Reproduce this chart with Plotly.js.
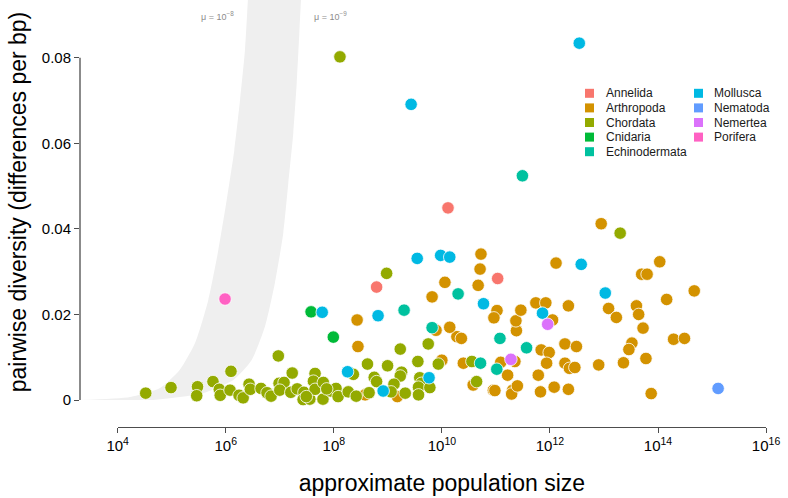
<!DOCTYPE html>
<html><head><meta charset="utf-8">
<script src="https://cdn.plot.ly/plotly-3.0.1.min.js"></script>
<style>html,body{margin:0;padding:0;background:#fff}#chart{width:788px;height:498px}</style>
</head><body><div id="chart"></div>
<script>
// ---- data ----
const categories = ["Annelida","Arthropoda","Chordata","Cnidaria","Echinodermata","Mollusca","Nematoda","Nemertea","Porifera"];
const colors = ["#F8766D","#D39200","#93AA00","#00BA38","#00C19F","#00B9E3","#619CFF","#DB72FB","#FF61C3"];

const annelidaN  = [1.3e10, 1.08e11, 6.2e8];
const annelidaPi = [0.0449, 0.0284, 0.0264];

const arthropodaN  = [2.8e8,3.8e8,1.5e9,1.0e10,2.5e10,3.8e10,9.0e10,1.9e10,2.3e10,7.8e9,
  1.4e10,2.4e11,2.35e11,1.23e11,2.25e11,1.65e11,9.6e10,2.05e11,1.96e11,2.5e11,
  6.9e11,9.7e11,8.7e11,6.1e11,6.7e11,1.2e12,1.9e12,3.1e12,1.9e12,2.3e12,
  2.9e12,2.2e12,8.9e12,1.08e14,5.0e13,6.3e13,4.7e14,1.45e14,2.2e12,1.22e13,
  1.7e13,4.0e13,4.4e13,5.3e13,3.3e13,2.9e13,6.0e13,1.95e14,3.1e14,8.0e12,
  2.3e13,7.5e13,5.3e10,5.1e10,4.7e10,1.3e12,1.14e10,6.6e9,2.7e8,1.05e11,
  9.2e10,2.9e11,5.5e11,8.4e11,1.12e12];
const arthropodaPi = [0.0125,0.0012,0.0008,0.0093,0.0086,0.0035,0.0023,0.0148,0.0144,0.0163,
  0.0170,0.0162,0.0185,0.0088,0.0090,0.0058,0.0022,0.0023,0.0014,0.0033,
  0.0117,0.0111,0.0086,0.0058,0.0019,0.0030,0.0131,0.0125,0.0086,0.0074,
  0.0076,0.0025,0.0412,0.0323,0.0294,0.0294,0.0255,0.0235,0.0220,0.0214,
  0.0193,0.0220,0.0200,0.0168,0.0133,0.0118,0.0097,0.0142,0.0144,0.0082,
  0.0087,0.0015,0.0341,0.0306,0.0268,0.0320,0.0275,0.0241,0.0187,0.0209,
  0.0192,0.0210,0.0227,0.0227,0.0187];

const chordataN  = [3.3e4,9.7e4,3.0e5,2.9e5,5.8e5,7.6e5,7.9e5,1.25e6,1.2e6,1.76e6,
  2.1e6,2.7e6,2.85e6,4.5e6,5.8e6,6.9e6,9.4e6,9.7e6,1.2e7,1.0e7,
  1.6e7,1.7e7,2.1e7,2.8e7,2.7e7,3.6e7,4.5e7,4.2e7,4.5e7,6.4e7,
  6.3e7,8.8e7,1.1e8,3.1e7,1.2e8,1.85e8,7.4e7,2.3e8,2.6e8,4.2e8,
  5.6e8,6.2e8,4.5e8,9.9e8,1.7e9,1.8e9,1.7e9,1.3e9,1.15e9,2.1e9,
  3.6e9,3.9e9,4.2e9,3.7e9,3.7e9,6.0e9,5.6e9,8.6e9,3.6e10,4.4e10,
  9.5e8,1.3e8,2.0e13];
const chordataPi = [0.0016,0.0029,0.0031,0.0010,0.0043,0.0025,0.0011,0.0067,0.0023,0.0011,
  0.0005,0.0037,0.0025,0.0027,0.0017,0.0009,0.0103,0.0039,0.0041,0.0023,
  0.0018,0.0063,0.0026,0.0018,0.0001,0.0002,0.0062,0.0044,0.0025,0.0041,
  0.0002,0.0021,0.0027,0.0008,0.0008,0.0019,0.0026,0.0060,0.0009,0.0084,
  0.0053,0.0043,0.0017,0.0080,0.0119,0.0065,0.0056,0.0037,0.0019,0.0016,
  0.0090,0.0052,0.0039,0.0030,0.0012,0.0029,0.0131,0.0084,0.0090,0.0043,
  0.0296,0.0802,0.0390];

const cnidariaN  = [3.8e7, 9.8e7];
const cnidariaPi = [0.0206, 0.0147];

const echinodermataN  = [3.1e11,2.0e10,2.0e9,6.6e9,1.19e11,3.7e11,5.2e10,1.04e11];
const echinodermataPi = [0.0524,0.0248,0.0210,0.0169,0.0144,0.0122,0.0086,0.0072];

const molluscaN  = [3.5e12,2.7e9,3.5e9,9.5e9,1.4e10,3.8e12,1.06e13,6.1e7,6.6e8,5.9e10,7.3e11,1.8e8,8.2e8,5.8e9];
const molluscaPi = [0.0834,0.0691,0.0331,0.0338,0.0334,0.0317,0.0250,0.0205,0.0197,0.0225,0.0203,0.0066,0.0021,0.0052];

const nematodaN  = [1.3e15];
const nematodaPi = [0.0027];

const nemerteaN  = [1.9e11, 9.1e11];
const nemerteaPi = [0.0095, 0.0177];

const poriferaN  = [9.7e5];
const poriferaPi = [0.0236];

// shaded band: boundary curves (bottom -> top)
const bandMu8N  = [2.0e3,1.7e4,6.1e4,1.4e5,2.7e5,4.75e5,7.3e5,1.04e6,1.44e6,1.84e6,2.27e6,2.57e6,2.75e6];
const bandMu8Pi = [0,0.0007,0.0028,0.0070,0.0133,0.0234,0.0351,0.0467,0.0584,0.0701,0.0818,0.0935,0.1];
const bandMu9N  = [4.5e4,3.8e5,1.38e6,3.0e6,5.3e6,8.1e6,1.16e7,1.44e7,1.78e7,2.06e7,2.3e7,2.47e7,2.6e7];
const bandMu9Pi = [0,0.0016,0.0047,0.0093,0.0171,0.0273,0.0390,0.0507,0.0624,0.0741,0.0858,0.0935,0.1];
const bandLabels = ["μ = 10<sup>−8</sup>", "μ = 10<sup>−9</sup>"];

const xTickExp = [4,6,8,10,12,14,16];
const yTickVals = [0,0.02,0.04,0.06,0.08];
const yTickText = ["0","0.02","0.04","0.06","0.08"];

const seriesN  = [annelidaN, arthropodaN, chordataN, cnidariaN, echinodermataN, molluscaN, nematodaN, nemerteaN, poriferaN];
const seriesPi = [annelidaPi, arthropodaPi, chordataPi, cnidariaPi, echinodermataPi, molluscaPi, nematodaPi, nemerteaPi, poriferaPi];

// ---- layout geometry (pixels) ----
const W = 788, H = 498, ML = 80, MR = 13, MT = 0, MB = 71;
const PW = W - ML - MR, PH = H - MT - MB;
const px2fx = px => (px - ML) / PW;
const px2fy = py => (H - MB - py) / PH;

const traces = [];
traces.push({
  type: 'scatter', mode: 'lines',
  x: bandMu8N.concat(bandMu9N.slice().reverse()),
  y: bandMu8Pi.concat(bandMu9Pi.slice().reverse()),
  fill: 'toself', fillcolor: '#efefef',
  line: {width: 0, color: '#efefef', shape: 'spline', smoothing: 0.6},
  hoverinfo: 'skip', showlegend: false
});
categories.forEach((c, i) => {
  traces.push({
    type: 'scatter', mode: 'markers', name: c,
    x: seriesN[i], y: seriesPi[i],
    marker: {color: colors[i], size: 12.5, line: {color: '#ffffff', width: 0.8}},
    cliponaxis: false, showlegend: false
  });
});
// carrier for the displayed x axis
traces.push({type: 'scatter', mode: 'markers', x: [], y: [], xaxis: 'x2', yaxis: 'y', showlegend: false, hoverinfo: 'skip'});

const axisColor = '#4d4d4d';
const shapes = [{
  type: 'line', xref: 'paper', yref: 'y', x0: 0, x1: 0, y0: yTickVals[0], y1: yTickVals[yTickVals.length - 1],
  line: {color: axisColor, width: 1.3}
}];
const annotations = [
  {xref: 'x', yref: 'y', x: 5.847, y: 0.0897, text: bandLabels[0], showarrow: false,
   font: {size: 9, color: '#8c8c8c'}},
  {xref: 'x', yref: 'y', x: 7.944, y: 0.0897, text: bandLabels[1], showarrow: false,
   font: {size: 9, color: '#8c8c8c'}}
];
// legend (two columns, column-major)
categories.forEach((c, i) => {
  const col = i < 5 ? 0 : 1, row = i < 5 ? i : i - 5;
  const sqL = col === 0 ? 585 : 694, txL = col === 0 ? 603.5 : 712;
  const cy = 93.3 + 14.6 * row;
  shapes.push({type: 'rect', xref: 'paper', yref: 'paper',
    x0: px2fx(sqL), x1: px2fx(sqL + 9), y0: px2fy(cy + 4.5), y1: px2fy(cy - 4.5),
    fillcolor: colors[i], line: {width: 0}});
  annotations.push({xref: 'paper', yref: 'paper', x: px2fx(txL), y: px2fy(cy),
    xanchor: 'left', yanchor: 'middle', text: c, showarrow: false,
    font: {size: 12, color: '#1a1a1a'}});
});

const layout = {
  width: W, height: H,
  margin: {l: ML, r: MR, t: MT, b: MB, pad: 0},
  paper_bgcolor: '#ffffff', plot_bgcolor: 'rgba(0,0,0,0)',
  font: {family: 'Liberation Sans, Arial, Helvetica, sans-serif', color: '#000000'},
  showlegend: false,
  hovermode: false,
  xaxis: {type: 'log', range: [3.302, 16.167], domain: [0, 1], visible: false, fixedrange: true},
  xaxis2: {
    type: 'log', range: [4, 16], domain: [px2fx(117.7), px2fx(766.06)],
    anchor: 'free', position: 0, fixedrange: true,
    showline: true, linecolor: axisColor, linewidth: 1.3,
    ticks: 'outside', ticklen: 5, tickwidth: 1.3, tickcolor: axisColor,
    tickmode: 'array', tickvals: xTickExp.map(e => Math.pow(10, e)),
    ticktext: xTickExp.map(e => '10<sup>' + e + '</sup>'),
    tickfont: {size: 15, color: '#000'},
    showgrid: false, zeroline: false,
    title: {text: 'approximate population size', font: {size: 23, color: '#000'}, standoff: 21}
  },
  yaxis: {
    range: [-0.000935, 0.09349], domain: [px2fy(404), 1], fixedrange: true,
    showline: false, showgrid: false, zeroline: false,
    ticks: 'outside', ticklen: 5, tickwidth: 1.3, tickcolor: axisColor,
    tickmode: 'array', tickvals: yTickVals, ticktext: yTickText,
    tickfont: {size: 15, color: '#000'},
    title: {text: 'pairwise diversity (differences per bp)', font: {size: 23, color: '#000'}, standoff: 8}
  },
  shapes: shapes,
  annotations: annotations
};

Plotly.newPlot('chart', traces, layout, {displayModeBar: false});
</script>
</body></html>
